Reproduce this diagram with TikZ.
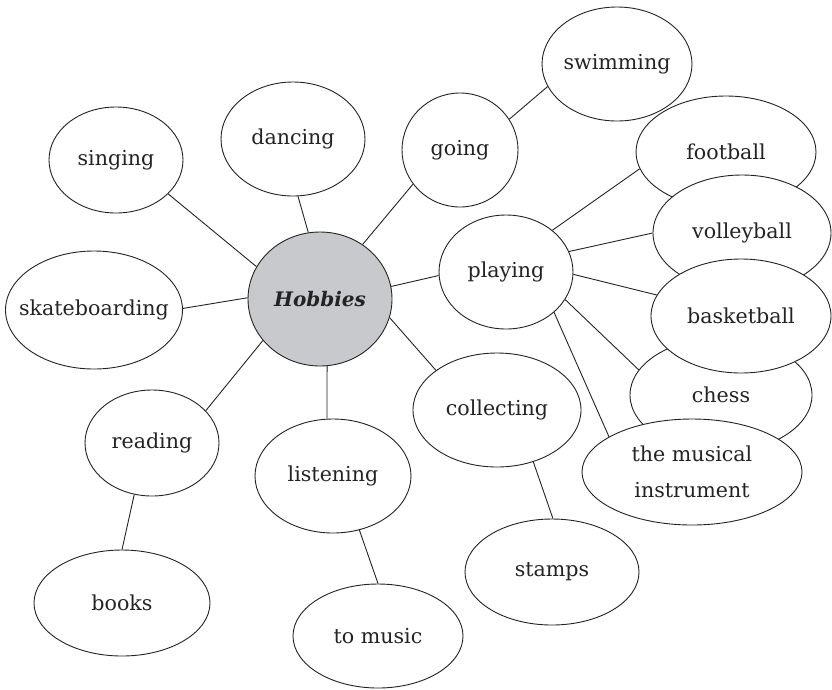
\documentclass[tikz,border=0pt]{standalone}
\usepackage{fontspec}
\setmainfont{DejaVu Serif}
\usepackage{tikz}
\usetikzlibrary{shapes.geometric,backgrounds}

\definecolor{hubgray}{RGB}{200,201,204}
\definecolor{inkgray}{RGB}{35,35,35}
\newcommand{\hobbytext}[1]{\makebox[0pt]{#1}}
\tikzset{
  hobby/.style 2 args={ellipse, draw=inkgray, line width=0.9pt, fill=white,
    text=inkgray, minimum width=#1pt, minimum height=#2pt, inner sep=0pt,
    align=center, font=\fontsize{20.6}{36}\selectfont},
  link/.style={draw=inkgray, line width=0.9pt}
}

\begin{document}
\begin{tikzpicture}[x=1pt,y=-1pt]
  \useasboundingbox (0,0) rectangle (832,689);
  % centre
  \node[hobby={144}{134}, fill=hubgray,
        font=\fontsize{20}{24}\selectfont\bfseries\itshape] (hobbies) at (320,299) {\hobbytext{Hobbies}};
  % left and lower branches
  \node[hobby={134}{106}] (singing) at (116,160) {\hobbytext{singing}};
  \node[hobby={177}{118}] (skateboarding) at (94,310) {\hobbytext{skateboarding}};
  \node[hobby={144}{114}] (dancing) at (293,139) {\hobbytext{dancing}};
  \node[hobby={116}{114}] (going) at (460,150) {\hobbytext{going}};
  \node[hobby={134}{106}] (reading) at (152,443) {\hobbytext{reading}};
  \node[hobby={176}{106}] (books) at (122,603) {\hobbytext{books}};
  \node[hobby={156}{114}] (listening) at (333,476) {\hobbytext{listening}};
  \node[hobby={170}{104}] (tomusic) at (378,636) {\hobbytext{to music}};
  \node[hobby={134}{114}] (playing) at (506,272) {\hobbytext{playing}};
  \node[hobby={168}{114}] (collecting) at (497,410) {\hobbytext{collecting}};
  \node[hobby={174}{106}] (stamps) at (552,572) {\hobbytext{stamps}};
  % right column, later ones lie over earlier ones
  \node[hobby={150}{114}] (swimming) at (617,64) {\hobbytext{swimming}};
  \node[hobby={180}{112}] (football) at (726,152) {\hobbytext{football}};
  \node[hobby={178}{116}] (volleyball) at (742,233) {\hobbytext{volleyball}};
  \node[hobby={182}{114}] (chess) at (721,395) {\hobbytext{chess}};
  \node[hobby={180}{114}] (basketball) at (741,316) {\hobbytext{basketball}};
  \node[hobby={220}{106}] (musical) at (692,472) {the musical\\instrument};

  % connectors
  \begin{scope}[on background layer]
    \draw[link] (singing.327) -- (hobbies.153);
    \draw[link] (skateboarding.1) -- (hobbies.179);
    \draw[link] (dancing.275) -- (hobbies.100);
    \draw[link] (going.216) -- (hobbies.52);
    \draw[link] (going.32) -- (swimming.198);
    \draw[link] (hobbies.10) -- (playing.183);
    \draw[link] (playing.42) -- (football.191);
    \draw[link] (playing.18) -- (volleyball.180);
    \draw[link] (playing.358) -- (basketball.166);
    \draw[link] (playing.335) -- (chess.163);
    \draw[link] (playing.320) -- (musical.157);
    \draw[link] (hobbies.345) -- (collecting.147);
    \draw[link] (collecting.305) -- (stamps.89);
    \draw[link] (hobbies.276) -- (listening.96);
    \draw[link] (hobbies.216) -- (reading.31);
    \draw[link] (reading.251) -- (books.90);
    \draw[link] (listening.296) -- (tomusic.90);
  \end{scope}
\end{tikzpicture}
\end{document}
